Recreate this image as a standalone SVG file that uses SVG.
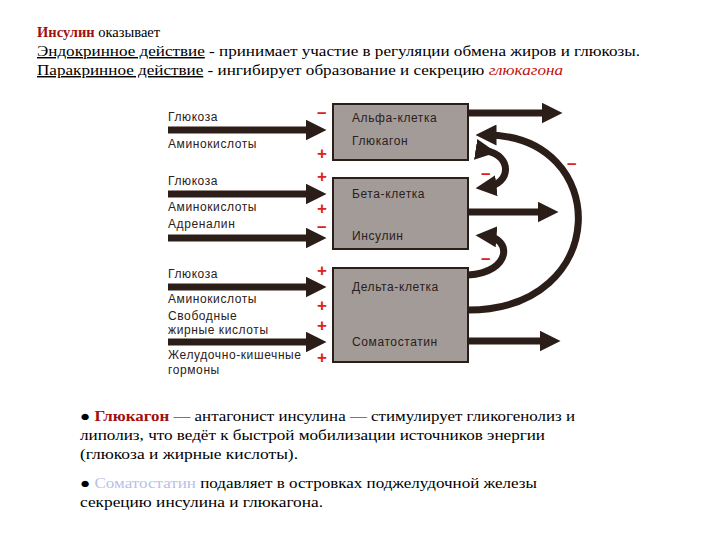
<svg xmlns="http://www.w3.org/2000/svg" width="720" height="540" viewBox="0 0 720 540">
<style>
.t{font-family:"Liberation Serif",serif;font-size:14.5px;fill:#000;font-weight:bold}
.n{font-weight:normal}
.l{font-family:"Liberation Sans",sans-serif;font-size:12px;fill:#2a2020;letter-spacing:0.6px}
.box{fill:#a39b97;stroke:#2a1e1a;stroke-width:2}
.ar{stroke:#2b1d17;stroke-width:7;fill:none}
.s{font-family:"Liberation Sans",sans-serif;font-size:17px;font-weight:bold;fill:#e02020}
</style>
<defs><marker id="h" markerWidth="3" markerHeight="3" refX="1.5" refY="1.5" orient="auto" markerUnits="strokeWidth"><path d="M0,0L3,1.5L0,3z" fill="#2b1d17"/></marker></defs>
<rect width="720" height="540" fill="#fff"/>
<text class="t" x="37" y="37"><tspan fill="#a01010">Инсулин</tspan> <tspan class="n">оказывает</tspan></text>
<text class="t n" x="37" y="56" textLength="603" lengthAdjust="spacingAndGlyphs"><tspan text-decoration="underline">Эндокринное действие</tspan> - принимает участие в регуляции обмена жиров и глюкозы.</text>
<text class="t n" x="37" y="75" textLength="526" lengthAdjust="spacingAndGlyphs"><tspan text-decoration="underline">Паракринное действие</tspan> -  ингибирует образование и секрецию <tspan fill="#c01010" font-style="italic">глюкагона</tspan></text>
<g id="alpha"><rect class="box" x="333" y="104" width="135" height="56"/><text class="l" x="352" y="122">Альфа-клетка</text><text class="l" x="352" y="145">Глюкагон</text></g>
<g id="beta"><rect class="box" x="333" y="178" width="135" height="71"/><text class="l" x="352" y="198">Бета-клетка</text><text class="l" x="352" y="240">Инсулин</text></g>
<g id="delta"><rect class="box" x="333" y="268" width="135" height="94"/><text class="l" x="352" y="291">Дельта-клетка</text><text class="l" x="352" y="346">Соматостатин</text></g>
<g id="labels">
<text class="l" x="168" y="121">Глюкоза</text><text class="l" x="168" y="148">Аминокислоты</text>
<text class="l" x="168" y="185">Глюкоза</text><text class="l" x="168" y="211">Аминокислоты</text><text class="l" x="168" y="228">Адреналин</text>
<text class="l" x="168" y="278">Глюкоза</text><text class="l" x="168" y="303">Аминокислоты</text><text class="l" x="168" y="320">Свободные</text><text class="l" x="168" y="334">жирные кислоты</text><text class="l" x="168" y="359">Желудочно-кишечные</text><text class="l" x="168" y="374">гормоны</text>
</g>
<g id="connectors">
<path class="ar" marker-end="url(#h)" d="M168,130H316"/>
<path class="ar" marker-end="url(#h)" d="M168,194H316"/>
<path class="ar" marker-end="url(#h)" d="M168,238H316"/>
<path class="ar" marker-end="url(#h)" d="M168,287H316"/>
<path class="ar" marker-end="url(#h)" d="M168,342H316"/>
<path class="ar" marker-end="url(#h)" d="M468,113H552"/>
<path class="ar" marker-end="url(#h)" d="M468,212H548"/>
<path class="ar" marker-end="url(#h)" d="M468,341H550"/>
<path class="ar" marker-end="url(#h)" d="M468,310C612,310 612,135 486,135"/>
<path class="ar" marker-start="url(#h)" marker-end="url(#h)" d="M486,151C512,155 512,184 486,187"/>
<path class="ar" marker-end="url(#h)" d="M468,275C512,272 512,238 486,236"/>
</g>
<g id="signs">
<text class="s" x="317" y="118">–</text><text class="s" x="317" y="159">+</text>
<text class="s" x="317" y="182">+</text><text class="s" x="317" y="214">+</text><text class="s" x="317" y="232">–</text>
<text class="s" x="317" y="276">+</text><text class="s" x="317" y="311">+</text><text class="s" x="317" y="331">+</text><text class="s" x="317" y="363">+</text>
<text class="s" x="481" y="179">–</text><text class="s" x="481" y="264">–</text><text class="s" x="567" y="169">–</text>
</g>
<text class="t n" x="80" y="421" textLength="495" lengthAdjust="spacingAndGlyphs">● <tspan fill="#a01010" font-weight="bold">Глюкагон</tspan> — антагонист инсулина — стимулирует гликогенолиз и</text>
<text class="t n" x="80" y="440" textLength="465" lengthAdjust="spacingAndGlyphs">липолиз, что ведёт к быстрой мобилизации источников энергии</text>
<text class="t n" x="80" y="459" textLength="218" lengthAdjust="spacingAndGlyphs">(глюкоза и жирные кислоты).</text>
<text class="t n" x="80" y="488" textLength="457" lengthAdjust="spacingAndGlyphs">● <tspan fill="#b8c0e8">Соматостатин</tspan> подавляет в островках поджелудочной железы</text>
<text class="t n" x="80" y="507" textLength="243" lengthAdjust="spacingAndGlyphs">секрецию инсулина и глюкагона.</text>
</svg>
